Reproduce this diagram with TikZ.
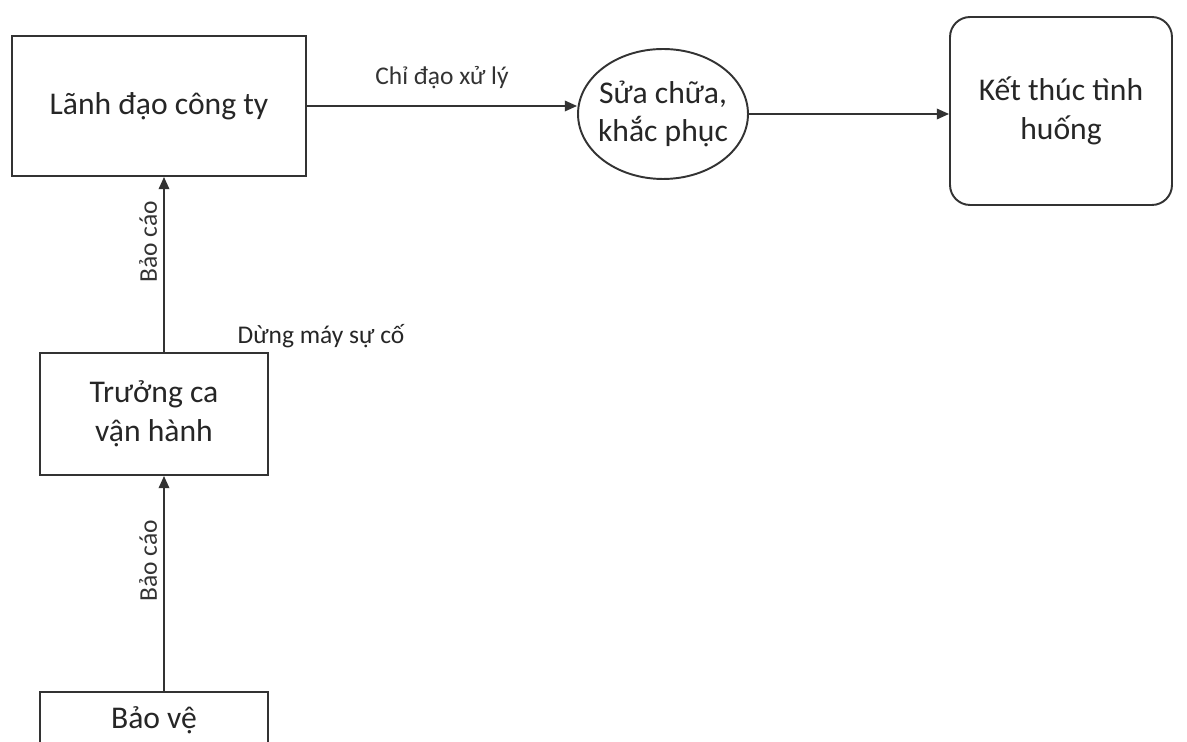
\documentclass[tikz,border=0pt]{standalone}
\usepackage{fontspec}
\setmainfont{Carlito}
\usepackage{xcolor}
\definecolor{ink}{HTML}{262626}
\definecolor{edge}{HTML}{333333}
\usepackage{tikz}
\usetikzlibrary{positioning,shapes.geometric,arrows.meta}

\begin{document}
\begin{tikzpicture}[
  x=0.02cm, y=-0.02cm,
  font=\fontsize{18}{22}\selectfont, text=ink,
  box/.style={draw=edge, line width=1.1pt, fill=white, align=center,
              minimum width=5.88cm, minimum height=2.8cm, inner sep=2pt},
  oval/.style={ellipse, draw=edge, line width=1.1pt, align=center,
               minimum width=3.4cm, minimum height=2.6cm, inner sep=-3pt},
  stop/.style={draw=edge, line width=1.1pt, rounded corners=0.4cm, align=center,
               minimum width=4.44cm, minimum height=3.76cm},
  lbl/.style={font=\fontsize{14.5}{17}\selectfont},
  link/.style={-{Triangle[length=7pt,width=6pt]}, edge, line width=1.1pt}
]
  \useasboundingbox (0,0) rectangle (1187,742);
  \clip (0,0) rectangle (1187,742);

  \node[box] (lead) at (159,106) {Lãnh đạo công ty};
  \node[oval] (fix) at (663,114) {Sửa chữa,\\khắc phục};
  \node[stop] (done) at (1061,111) {Kết thúc tình\\huống};

  \node[box, minimum width=4.56cm, minimum height=2.44cm] (shift) at (154,414) {Trưởng ca\\vận hành};
  \node[box, minimum width=4.56cm, minimum height=1.12cm] (guard) at (154,720) {Bảo vệ};

  \draw[link] (lead.east) -- node[lbl, above=6pt] {Chỉ đạo xử lý} (lead.east -| fix.west);
  \draw[link] (fix.east) -- (fix.east -| done.west);

  \draw[link] (shift.north -| 164,0) -- node[lbl, rotate=90, above=13pt] {Bảo cáo} (lead.south -| 164,0);
  \draw[link] (guard.north -| 164,0) -- node[lbl, rotate=90, above=13pt] {Bảo cáo} (shift.south -| 164,0);

  \node[lbl] (stopnote) at (321,336) {Dừng máy sự cố};
\end{tikzpicture}
\end{document}
